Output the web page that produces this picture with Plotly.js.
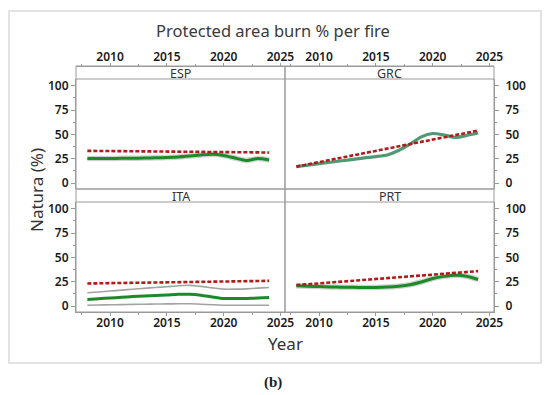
<!DOCTYPE html>
<html>
<head>
<meta charset="utf-8">
<script src="https://cdn.plot.ly/plotly-3.0.1.min.js"></script>
<style>html,body{margin:0;padding:0;background:#fff;}#chart{width:550px;height:395px;}</style>
</head>
<body>
<div id="chart"></div>
<script>
// ---- data ----
const years = [2008,2009,2010,2011,2012,2013,2014,2015,2016,2017,2018,2019,2020,2021,2022,2023,2024];
const trendYears = [2008, 2024];

const espFit   = [25.3,25.3,25.4,25.5,25.6,25.8,26.0,26.3,26.8,27.8,29.0,29.8,28.5,25.8,23.3,25.3,23.8];
const espTrend = [33.2, 31.5];

const grcFit   = [17.0,18.5,20.0,21.5,23.0,24.5,26.0,27.3,29.0,33.5,40.0,47.5,51.0,49.5,47.0,49.0,51.5];
const grcTrend = [17.0, 54.0];

const itaFit   = [6.8,7.6,8.4,9.1,9.8,10.5,11.0,11.5,12.2,12.3,11.3,9.5,7.9,7.8,7.9,8.3,8.9];
const itaUpper = [13.7,14.6,15.5,16.5,17.4,18.3,19.2,20.0,21.0,21.4,20.3,18.8,17.5,17.5,17.8,18.5,19.2];
const itaLower = [1.0,1.2,1.4,1.6,1.8,2.0,2.2,2.3,2.4,2.4,2.0,1.5,1.0,1.0,1.0,1.0,1.0];
const itaTrend = [23.3, 26.0];

const prtFit   = [20.9,20.5,20.1,19.8,19.5,19.3,19.2,19.2,19.6,20.5,22.0,24.8,28.4,30.6,31.8,30.8,27.4];
const prtTrend = [21.6, 36.0];

const panelNames = ['ESP','GRC','ITA','PRT'];
const xTickVals = [2010, 2015, 2020, 2025];
const yTickVals = [0, 25, 50, 75, 100];

// ---- styles ----
const W = 550, H = 395;
const px = v => v / W;
const py = v => 1 - v / H;
const GREEN = '#1d8a2a', TEAL = '#4f9a74', RED = '#b01c1c', GRAY = '#a3a3a3', HALO = 'rgba(150,160,150,0.45)';
const FONT = 'Noto Sans, DejaVu Sans, sans-serif';
const axisColor = '#9a9a9a';

function fitLine(x, y, xa, ya, color, w) {
  return {x: x, y: y, xaxis: xa, yaxis: ya, mode: 'lines', line: {color: color, width: w || 3, shape: 'spline', smoothing: 0.6}, hoverinfo: 'skip'};
}
function halo(x, y, xa, ya) {
  return {x: x, y: y, xaxis: xa, yaxis: ya, mode: 'lines', line: {color: HALO, width: 5.5, shape: 'spline', smoothing: 0.6}, hoverinfo: 'skip'};
}
function ciLine(x, y, xa, ya) {
  return {x: x, y: y, xaxis: xa, yaxis: ya, mode: 'lines', line: {color: GRAY, width: 1.6, shape: 'spline', smoothing: 0.6}, hoverinfo: 'skip'};
}
function trendLine(x, y, xa, ya) {
  return {x: x, y: y, xaxis: xa, yaxis: ya, mode: 'lines', line: {color: RED, width: 2.6, dash: '4px,2px'}, hoverinfo: 'skip'};
}

const traces = [
  halo(years, espFit, 'x', 'y'),
  fitLine(years, espFit, 'x', 'y', GREEN),
  trendLine(trendYears, espTrend, 'x', 'y'),

  fitLine(years, grcFit, 'x2', 'y2', TEAL, 3.2),
  trendLine(trendYears, grcTrend, 'x2', 'y2'),

  ciLine(years, itaUpper, 'x3', 'y3'),
  ciLine(years, itaLower, 'x3', 'y3'),
  fitLine(years, itaFit, 'x3', 'y3', GREEN),
  trendLine(trendYears, itaTrend, 'x3', 'y3'),

  halo(years, prtFit, 'x4', 'y4'),
  fitLine(years, prtFit, 'x4', 'y4', GREEN),
  trendLine(trendYears, prtTrend, 'x4', 'y4')
];

// panel geometry (pixels)
const L0 = 76, L1 = 285, R1 = 494;
const T_STRIP = 66, T_TOP = 79, T_BOT = 189, B_STRIP = 189, B_TOP = 202, B_BOT = 312;
const XR = [2007.0, 2025.4], YR = [-6, 107];

const tickFont = {family: FONT, size: 12, color: '#1a1a1a', weight: 600};
function xAxis(domain, opts) {
  return Object.assign({
    domain: domain, range: XR, tickmode: 'array', tickvals: xTickVals, ticks: 'outside', ticklen: 3,
    tickcolor: axisColor, showgrid: false, zeroline: false, showline: true, linecolor: axisColor, linewidth: 1,
    tickfont: tickFont, fixedrange: true, ticklabelstandoff: -3,
    minor: {tickmode: 'array', tickvals: [2007.5, 2012.5, 2017.5, 2022.5], ticks: 'outside', ticklen: 2, tickcolor: axisColor}
  }, opts);
}
function yAxis(domain, opts) {
  return Object.assign({
    domain: domain, range: YR, tickmode: 'array', tickvals: yTickVals, ticks: 'outside', ticklen: 4,
    tickcolor: axisColor, showgrid: false, zeroline: false, showline: true, linecolor: axisColor, linewidth: 1,
    tickfont: tickFont, fixedrange: true,
    minor: {tickmode: 'array', tickvals: [12.5, 37.5, 62.5, 87.5], ticks: 'outside', ticklen: 2, tickcolor: axisColor}
  }, opts);
}

const dl = [px(L0), px(L1)], dr = [px(L1), px(R1)];
const dTop = [py(T_BOT), py(T_TOP)], dBot = [py(B_BOT), py(B_TOP)];

function rect(x0, y0, x1, y1, color, w) {
  return {type: 'rect', xref: 'paper', yref: 'paper', x0: px(x0), x1: px(x1), y0: py(y1), y1: py(y0),
          line: {color: color, width: w}, fillcolor: 'rgba(0,0,0,0)', layer: 'above'};
}
function hline(x0, x1, y, color) {
  return {type: 'line', xref: 'paper', yref: 'paper', x0: px(x0), x1: px(x1), y0: py(y), y1: py(y), line: {color: color, width: 1}, layer: 'above'};
}

const shapes = [
  rect(9, 11, 541, 363, '#e2e2e2', 2),
  rect(L0, T_STRIP, L1, T_BOT, axisColor, 1),
  rect(L1, T_STRIP, R1, T_BOT, axisColor, 1),
  rect(L0, B_STRIP, L1, B_BOT, axisColor, 1),
  rect(L1, B_STRIP, R1, B_BOT, axisColor, 1),
  hline(L0, R1, T_TOP, axisColor),
  hline(L0, R1, B_TOP, axisColor)
];

function stripLabel(text, xc, yc) {
  return {text: text, xref: 'paper', yref: 'paper', x: px(xc), y: py(yc), showarrow: false,
          xanchor: 'center', yanchor: 'middle', font: {family: FONT, size: 12.5, color: '#333'}};
}

const annotations = [
  {text: 'Protected area burn % per fire', xref: 'paper', yref: 'paper', x: px(273), y: py(31), showarrow: false,
   xanchor: 'center', yanchor: 'middle', font: {family: FONT, size: 16.5, color: '#3a3a3a'}},
  stripLabel(panelNames[0], (L0 + L1) / 2, (T_STRIP + T_TOP) / 2 + 1),
  stripLabel(panelNames[1], (L1 + R1) / 2, (T_STRIP + T_TOP) / 2 + 1),
  stripLabel(panelNames[2], (L0 + L1) / 2, (B_STRIP + B_TOP) / 2 + 1),
  stripLabel(panelNames[3], (L1 + R1) / 2, (B_STRIP + B_TOP) / 2 + 1),
  {text: 'Natura (%)', xref: 'paper', yref: 'paper', x: px(36), y: py(190), showarrow: false, textangle: -90,
   xanchor: 'center', yanchor: 'middle', font: {family: FONT, size: 17, color: '#333'}},
  {text: 'Year', xref: 'paper', yref: 'paper', x: px(285), y: py(343), showarrow: false,
   xanchor: 'center', yanchor: 'middle', font: {family: FONT, size: 17, color: '#333'}},
  {text: '<b>(b)</b>', xref: 'paper', yref: 'paper', x: px(273), y: py(382), showarrow: false,
   xanchor: 'center', yanchor: 'middle', font: {family: 'Liberation Serif, DejaVu Serif, serif', size: 15, color: '#222'}}
];

const layout = {
  width: W, height: H, margin: {l: 0, r: 0, t: 0, b: 0}, paper_bgcolor: '#fff', plot_bgcolor: '#fff',
  showlegend: false,
  xaxis:  xAxis(dl, {anchor: 'free', position: py(T_STRIP), side: 'top'}),
  xaxis2: xAxis(dr, {anchor: 'free', position: py(T_STRIP), side: 'top'}),
  xaxis3: xAxis(dl, {anchor: 'y3', side: 'bottom'}),
  xaxis4: xAxis(dr, {anchor: 'y4', side: 'bottom'}),
  yaxis:  yAxis(dTop, {anchor: 'x', side: 'left'}),
  yaxis2: yAxis(dTop, {anchor: 'x2', side: 'right', ticklabelstandoff: 4}),
  yaxis3: yAxis(dBot, {anchor: 'x3', side: 'left'}),
  yaxis4: yAxis(dBot, {anchor: 'x4', side: 'right', ticklabelstandoff: 4}),
  shapes: shapes,
  annotations: annotations
};

Plotly.newPlot('chart', traces, layout, {displayModeBar: false, staticPlot: true});
</script>
</body>
</html>
